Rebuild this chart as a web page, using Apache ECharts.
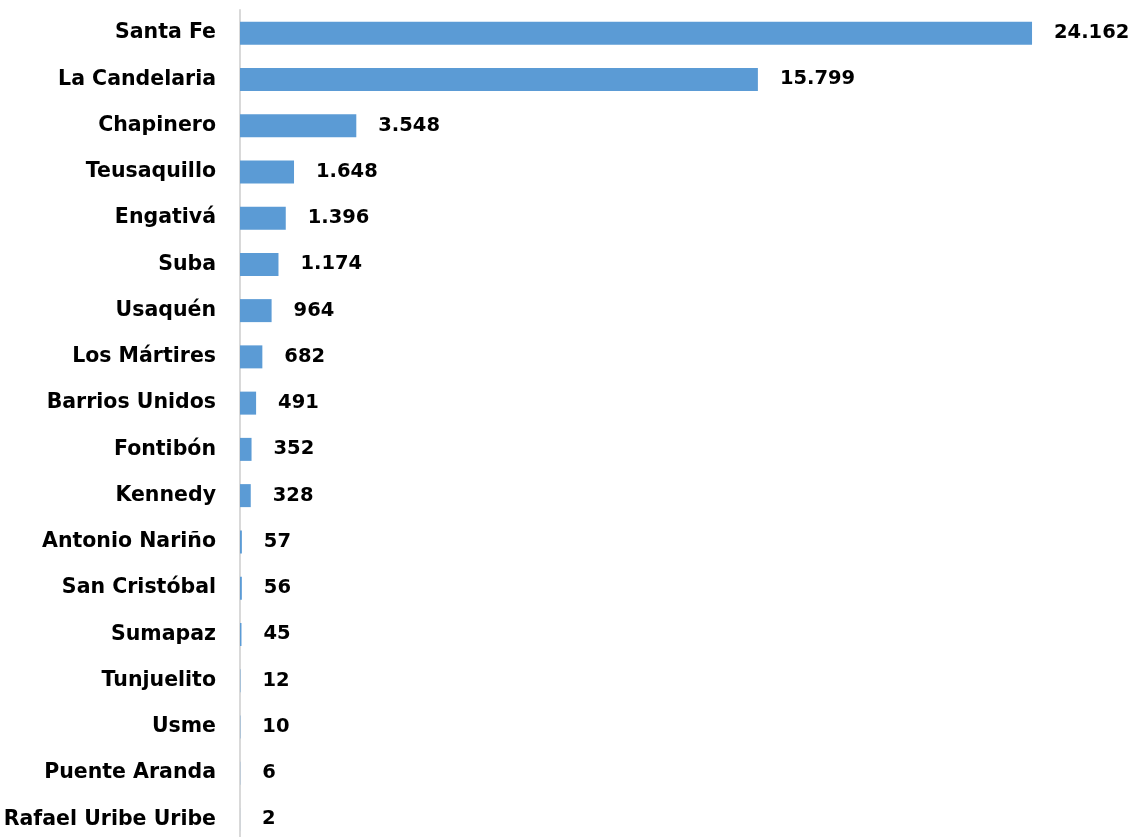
<!DOCTYPE html>
<html>
<head>
<meta charset="utf-8">
<script src="https://cdn.jsdelivr.net/npm/echarts@6/dist/echarts.min.js"></script>
<style>
  html, body { margin: 0; padding: 0; background: #fff; }
  #chart { width: 1135px; height: 837px; }
</style>
</head>
<body>
<div id="chart"></div>
<script>
// Localidades, ordered from largest to smallest
const localidades = [
  'Santa Fe', 'La Candelaria', 'Chapinero', 'Teusaquillo', 'Engativá', 'Suba',
  'Usaquén', 'Los Mártires', 'Barrios Unidos', 'Fontibón', 'Kennedy',
  'Antonio Nariño', 'San Cristóbal', 'Sumapaz', 'Tunjuelito', 'Usme',
  'Puente Aranda', 'Rafael Uribe Uribe'
];
const valores = [
  24162, 15799, 3548, 1648, 1396, 1174, 964, 682, 491, 352, 328,
  57, 56, 45, 12, 10, 6, 2
];

// Spanish-style thousands separator (24.162)
function formatoMiles(v) {
  return String(v).replace(/\B(?=(\d{3})+(?!\d))/g, '.');
}

const FONT = '"DejaVu Sans", "Liberation Sans", Arial, sans-serif';

const chart = echarts.init(document.getElementById('chart'));
chart.setOption({
  animation: false,
  grid: {
    left: 240, top: 10, width: 819.5, height: 832.5,
    containLabel: false,
    outerBoundsMode: 'none'
  },
  xAxis: {
    type: 'value',
    min: 0,
    max: 25000,
    show: false
  },
  yAxis: {
    type: 'category',
    data: localidades,
    inverse: true,
    axisLine: { show: true, lineStyle: { color: '#d9d9d9', width: 2 } },
    axisTick: { show: false },
    axisLabel: {
      margin: 24,
      color: '#000',
      fontFamily: FONT,
      fontWeight: 'bold',
      fontSize: 20.5,
      padding: [3, 0, 0, 0]
    }
  },
  series: [{
    type: 'bar',
    data: valores,
    barWidth: 23,
    itemStyle: { color: '#5B9BD5' },
    label: {
      show: true,
      position: 'right',
      distance: 22,
      color: '#000',
      fontFamily: FONT,
      fontWeight: 'bold',
      fontSize: 19.5,
      padding: [5, 0, 0, 0],
      formatter: p => formatoMiles(p.value)
    }
  }]
});
</script>
</body>
</html>
